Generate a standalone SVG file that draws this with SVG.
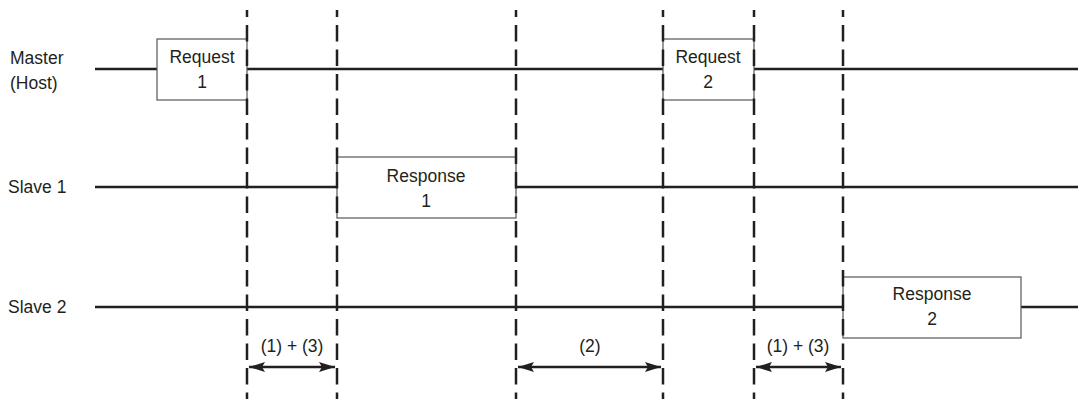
<svg xmlns="http://www.w3.org/2000/svg" width="1078" height="399" viewBox="0 0 1078 399">
<style>
.sig{stroke:#231f20;stroke-width:2.5;fill:none}
.box{fill:#fff;stroke:#555;stroke-width:1.2}
.dash{stroke:#231f20;stroke-width:2.5;stroke-dasharray:16.5 8;stroke-dashoffset:9.5;fill:none}
.arr{stroke:#231f20;stroke-width:2.5;fill:none;marker-start:url(#ah);marker-end:url(#ah)}
text{font-family:"Liberation Sans",Arial,sans-serif;font-size:17.5px;fill:#231f20}
.c{text-anchor:middle}
</style>
<defs>
<marker id="ah" viewBox="0 0 16 10" refX="16" refY="5" markerWidth="16" markerHeight="10" markerUnits="userSpaceOnUse" orient="auto-start-reverse">
<path d="M0,0 L16,5 L0,10 L3,5 z" fill="#231f20"/>
</marker>
</defs>
<g id="labels">
<text x="10" y="64">Master</text>
<text x="10" y="89">(Host)</text>
<text x="8" y="193">Slave 1</text>
<text x="8" y="313">Slave 2</text>
</g>
<g id="connectors">
<line class="sig" x1="95" y1="69" x2="1078" y2="69"/>
<line class="sig" x1="95" y1="187" x2="1078" y2="187"/>
<line class="sig" x1="95" y1="307" x2="1078" y2="307"/>
</g>
<g id="request1">
<rect class="box" x="157" y="39" width="90" height="61"/>
<text class="c" x="202" y="63">Request</text>
<text class="c" x="202" y="88">1</text>
</g>
<g id="request2">
<rect class="box" x="663" y="39" width="91" height="61"/>
<text class="c" x="708" y="63">Request</text>
<text class="c" x="708" y="88">2</text>
</g>
<g id="response1">
<rect class="box" x="337" y="157" width="179" height="61"/>
<text class="c" x="426" y="182">Response</text>
<text class="c" x="426" y="207">1</text>
</g>
<g id="response2">
<rect class="box" x="843" y="277" width="178" height="61"/>
<text class="c" x="932" y="300">Response</text>
<text class="c" x="932" y="325">2</text>
</g>
<g id="dividers">
<line class="dash" x1="247" y1="10" x2="247" y2="399"/>
<line class="dash" x1="337" y1="10" x2="337" y2="399"/>
<line class="dash" x1="516" y1="10" x2="516" y2="399"/>
<line class="dash" x1="663" y1="10" x2="663" y2="399"/>
<line class="dash" x1="754" y1="10" x2="754" y2="399"/>
<line class="dash" x1="843" y1="10" x2="843" y2="399"/>
</g>
<g id="intervals">
<line class="arr" x1="249" y1="367" x2="335" y2="367"/>
<text class="c" x="292" y="352">(1) + (3)</text>
<line class="arr" x1="518" y1="367" x2="661" y2="367"/>
<text class="c" x="590" y="352">(2)</text>
<line class="arr" x1="756" y1="367" x2="841" y2="367"/>
<text class="c" x="798" y="352">(1) + (3)</text>
</g>
</svg>
